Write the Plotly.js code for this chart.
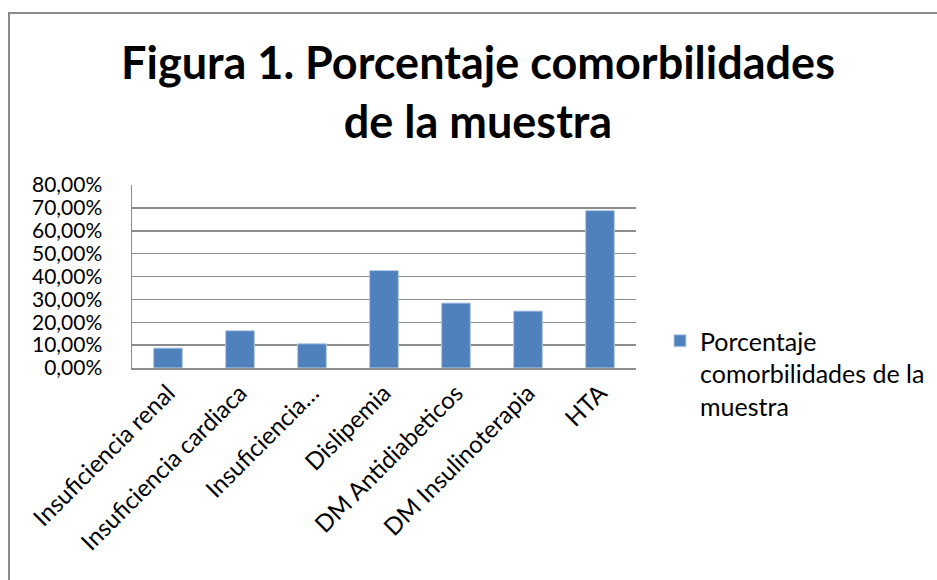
<!DOCTYPE html>
<html>
<head>
<meta charset="utf-8">
<script src="https://cdn.plot.ly/plotly-3.0.1.min.js"></script>
<style>html,body{margin:0;padding:0;background:#fff;}#chart{width:937px;height:580px;}</style>
</head>
<body>
<div id="chart"></div>
<script>
const categories = ["Insuficiencia renal", "Insuficiencia cardiaca", "Insuficiencia…", "Dislipemia", "DM Antidiabeticos", "DM Insulinoterapia", "HTA"];
const values = [0.087, 0.163, 0.106, 0.426, 0.284, 0.249, 0.688];
const seriesName = "Porcentaje<br>comorbilidades de la<br>muestra";
const titleText = "<b>Figura 1. Porcentaje comorbilidades<br>de la muestra</b>";

const FONT = "Lato, 'Open Sans', sans-serif";
const W = 937, H = 580;
const ml = 132, mr = W - 636, mt = 185, mb = H - 368;
const pw = W - ml - mr, ph = H - mt - mb;
const px = v => (v - ml) / pw;
const py = v => (H - mb - v) / ph;

const trace = {
  type: "bar",
  x: categories,
  y: values,
  name: seriesName,
  marker: {color: "#4F81BD", line: {color: "#B9CDE5", width: 1}},
  showlegend: true,
  hoverinfo: "x+y"
};

const layout = {
  width: W, height: H,
  margin: {l: ml, r: mr, t: mt, b: mb},
  paper_bgcolor: "#ffffff",
  plot_bgcolor: "#ffffff",
  separators: ",.",
  font: {family: FONT, color: "#000000"},
  title: {
    text: titleText,
    font: {family: FONT, size: 45, color: "#000000"},
    xref: "container", x: 478 / W, xanchor: "center",
    yref: "container", y: 1 - 79 / H, yanchor: "top"
  },
  bargap: 0.6,
  xaxis: {
    type: "category",
    tickangle: -45,
    tickfont: {family: FONT, size: 24, color: "#000"},
    showline: true, linecolor: "#8c8c8c", linewidth: 1.5,
    ticks: "", showgrid: false, zeroline: false,
    automargin: false
  },
  yaxis: {
    range: [0, 0.8],
    dtick: 0.1,
    tickformat: ".2%",
    tickfont: {family: FONT, size: 21, color: "#000"},
    showline: true, linecolor: "#8c8c8c", linewidth: 1.5,
    showgrid: true, gridcolor: "#8c8c8c", gridwidth: 1.5,
    zeroline: false, ticks: "",
    ticklabelstandoff: 24,
    automargin: false
  },
  legend: {
    xref: "container", x: 660 / W, xanchor: "left",
    yref: "container", y: 1 - 318 / H, yanchor: "top",
    valign: "top",
    font: {family: FONT, size: 25, color: "#000"},
    bgcolor: "rgba(0,0,0,0)",
    itemwidth: 30
  },
  shapes: [{
    type: "rect", xref: "paper", yref: "paper",
    x0: px(9), x1: px(W + 20), y0: py(H + 20), y1: py(13),
    line: {color: "#8a8a8a", width: 2}, fillcolor: "rgba(0,0,0,0)", layer: "below"
  }]
};

Plotly.newPlot("chart", [trace], layout, {displayModeBar: false, staticPlot: true});
</script>
</body>
</html>
